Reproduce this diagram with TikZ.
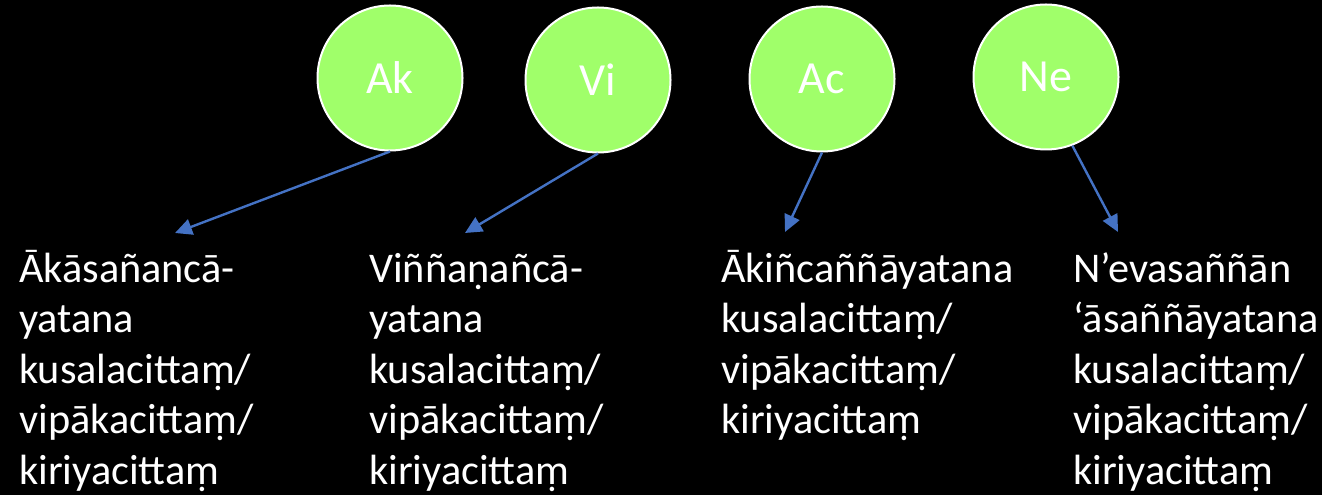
\documentclass[tikz,border=0pt]{standalone}
\usepackage{fontspec}
\setmainfont{Carlito}
\usetikzlibrary{arrows.meta}
\definecolor{circfill}{RGB}{160,255,106}
\definecolor{arrowblue}{RGB}{68,114,196}
\tikzset{
  ball/.style={circle, draw=white, line width=2pt, fill=circfill, minimum size=145pt, inner sep=0pt, text=white, font=\fontsize{46}{52}\selectfont},
  conn/.style={draw=arrowblue, line width=2.4pt, -{Triangle[length=17pt,width=16pt]}},
  label/.style={anchor=north west, inner sep=0pt, align=left, text=white, font=\fontsize{42.3}{50.6}\selectfont}
}
\newcommand{\tallstrut}{\rule{0pt}{40pt}}
\begin{document}
\begin{tikzpicture}[x=1pt,y=1pt]
\fill[black] (0,0) rectangle (1322,495);
\useasboundingbox (0,0) rectangle (1322,495);
\node[ball] (ak) at (390,417) {Ak};
\node[ball] (vi) at (598,415) {Vi};
\node[ball] (ac) at (822,416) {Ac};
\node[ball] (ne) at (1046,418) {Ne};
\coordinate (tak) at (175,262);
\coordinate (tvi) at (465,262);
\coordinate (tac) at (785,263);
\coordinate (tne) at (1118,263);
\node[label] (lak) at (19,253) {\tallstrut Ākāsañancā-\\yatana\\kusalacittaṃ/\\vipākacittaṃ/\\kiriyacittaṃ};
\node[label] (lvi) at (369,253) {\tallstrut Viññaṇañcā-\\yatana\\kusalacittaṃ/\\vipākacittaṃ/\\kiriyacittaṃ};
\node[label] (lac) at (721,253) {\tallstrut Ākiñcaññāyatana\\kusalacittaṃ/\\vipākacittaṃ/\\kiriyacittaṃ};
\node[label] (lne) at (1073,253) {\tallstrut N’evasaññān\\‘āsaññāyatana\\kusalacittaṃ/\\vipākacittaṃ/\\kiriyacittaṃ};
\draw[conn] (ak.south) -- (tak);
\draw[conn] (vi.south) -- (tvi);
\draw[conn] (ac.south) -- (tac);
\draw[conn] (ne.-69) -- (tne);
\end{tikzpicture}
\end{document}
